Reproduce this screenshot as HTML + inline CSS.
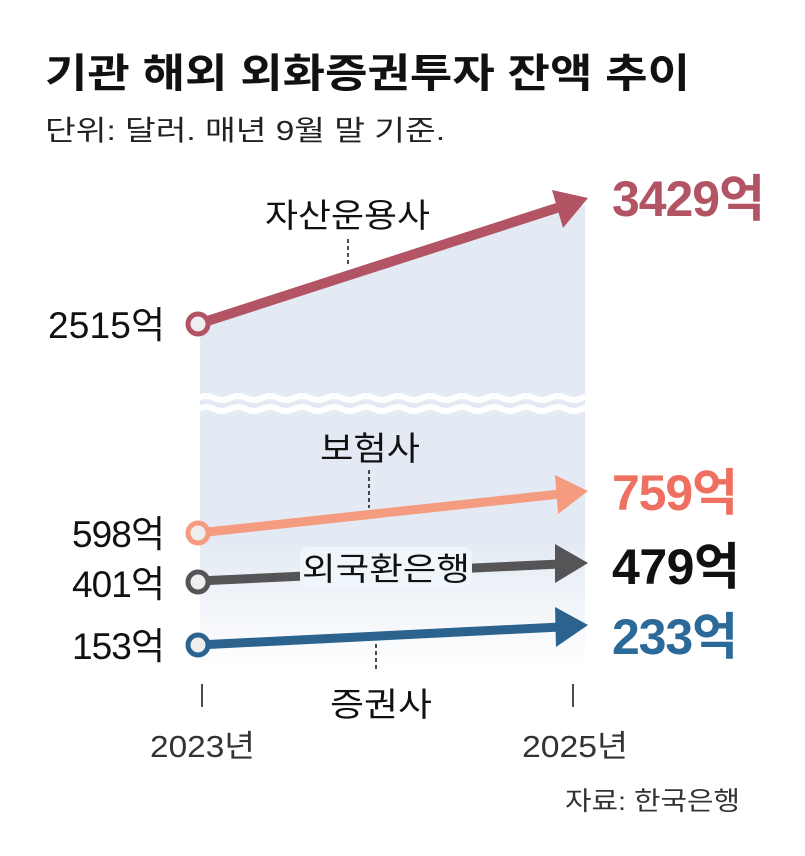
<!DOCTYPE html>
<html><head><meta charset="utf-8"><style>
body{margin:0;background:#fff;}
svg text{font-family:"Liberation Sans","Noto Sans CJK KR",sans-serif;}
</style></head><body>
<svg width="805" height="851" viewBox="0 0 805 851" xmlns="http://www.w3.org/2000/svg">
<defs>
<linearGradient id="g" x1="0" y1="0" x2="0" y2="1">
<stop offset="0" stop-color="#e3eaf3"/><stop offset="0.72" stop-color="#e3eaf3"/><stop offset="1" stop-color="#ffffff"/>
</linearGradient>
</defs>
<text x="45" y="87" font-size="40" font-weight="bold" fill="#111" textLength="645" lengthAdjust="spacingAndGlyphs">기관 해외 외화증권투자 잔액 추이</text>
<text x="45" y="140" font-size="28" fill="#222" textLength="400" lengthAdjust="spacingAndGlyphs">단위: 달러. 매년 9월 말 기준.</text>
<polygon points="200,324 585,205 585,670 200,670" fill="url(#g)"/>
<path d="M198,398 q8,-4 16,0 t16,0 t16,0 t16,0 t16,0 t16,0 t16,0 t16,0 t16,0 t16,0 t16,0 t16,0 t16,0 t16,0 t16,0 t16,0 t16,0 t16,0 t16,0 t16,0 t16,0 t16,0 t16,0 t16,0 t16,0" fill="none" stroke="#fff" stroke-width="6"/>
<path d="M198,409 q8,-4 16,0 t16,0 t16,0 t16,0 t16,0 t16,0 t16,0 t16,0 t16,0 t16,0 t16,0 t16,0 t16,0 t16,0 t16,0 t16,0 t16,0 t16,0 t16,0 t16,0 t16,0 t16,0 t16,0 t16,0 t16,0" fill="none" stroke="#fff" stroke-width="6"/>
<g stroke="#111" stroke-width="1.5" stroke-dasharray="4,3">
<line x1="348" y1="239" x2="348" y2="266"/>
<line x1="369" y1="470" x2="369" y2="508"/>
<line x1="376" y1="644" x2="376" y2="670"/>
</g>
<line x1="198" y1="324" x2="560" y2="207" stroke="#b35465" stroke-width="10"/>
<polygon points="588,198 552,190 563,228" fill="#b35465"/>
<circle cx="198" cy="324" r="10" fill="#eee" stroke="#b35465" stroke-width="5"/>
<line x1="198" y1="533" x2="560" y2="494" stroke="#f59b80" stroke-width="9"/>
<polygon points="588,491 555,475 558,514" fill="#f59b80"/>
<circle cx="198" cy="533" r="10" fill="#eee" stroke="#f59b80" stroke-width="5"/>
<line x1="198" y1="581" x2="560" y2="564" stroke="#555558" stroke-width="9"/>
<polygon points="588,563 555,544 555,583" fill="#555558"/>
<circle cx="198" cy="582" r="10" fill="#eee" stroke="#555558" stroke-width="5"/>
<line x1="198" y1="645" x2="560" y2="627" stroke="#2b638e" stroke-width="9"/>
<polygon points="588,625 555,607 556,647" fill="#2b638e"/>
<circle cx="198" cy="645" r="10" fill="#eee" stroke="#2b638e" stroke-width="5"/>
<rect x="300" y="547" width="172" height="40" rx="8" fill="#eef5fb"/>
<text x="302" y="580" font-size="32" fill="#111" textLength="168" lengthAdjust="spacingAndGlyphs">외국환은행</text>
<text x="265" y="227" font-size="33" fill="#111" textLength="165" lengthAdjust="spacingAndGlyphs">자산운용사</text>
<text x="320" y="460" font-size="33" fill="#111" textLength="100" lengthAdjust="spacingAndGlyphs">보험사</text>
<text x="330" y="716" font-size="33" fill="#111" textLength="102" lengthAdjust="spacingAndGlyphs">증권사</text>
<g font-size="37" fill="#111" lengthAdjust="spacingAndGlyphs">
<text x="48" y="338" textLength="117">2515억</text>
<text x="72" y="547" textLength="93">598억</text>
<text x="72" y="597" textLength="93">401억</text>
<text x="72" y="659" textLength="93">153억</text>
</g>
<g font-size="50" font-weight="bold" lengthAdjust="spacingAndGlyphs">
<text x="612" y="216" fill="#b35465" textLength="153">3429억</text>
<text x="612" y="510" fill="#ef6f60" textLength="126">759억</text>
<text x="612" y="584" fill="#111" textLength="128">479억</text>
<text x="612" y="654" fill="#2b6a98" textLength="126">233억</text>
</g>
<line x1="202" y1="684" x2="202" y2="707" stroke="#111" stroke-width="1.5"/>
<line x1="573" y1="684" x2="573" y2="707" stroke="#111" stroke-width="1.5"/>
<text x="150" y="757" font-size="31" fill="#333" textLength="105" lengthAdjust="spacingAndGlyphs">2023년</text>
<text x="522" y="757" font-size="31" fill="#333" textLength="106" lengthAdjust="spacingAndGlyphs">2025년</text>
<text x="565" y="810" font-size="26" fill="#333" textLength="175" lengthAdjust="spacingAndGlyphs">자료: 한국은행</text>
</svg>
</body></html>
